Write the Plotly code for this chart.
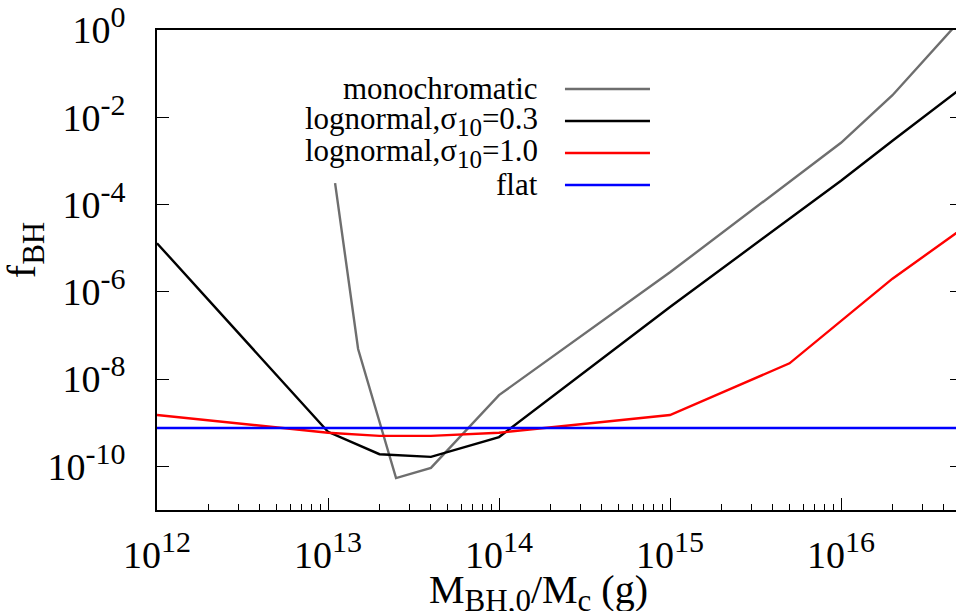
import plotly.graph_objects as go

# ---- data ----
x_mono = [1.1e13, 1.5e13, 2.5e13, 4e13, 1e14, 1e15, 1e16, 2e16, 5e16]
f_mono = [3.1e-4, 4.9e-8, 5.4e-11, 9.2e-11, 4.3e-9, 2.8e-6, 2.6e-3, 3.2e-2, 1.7]

x_ln03 = [1e12, 1e13, 2e13, 4e13, 1e14, 1e15, 1e16, 2e16, 5e16]
f_ln03 = [1.3e-5, 6.2e-10, 1.9e-10, 1.65e-10, 4.7e-10, 4.5e-7, 3.5e-4, 2.9e-3, 4.5e-2]

x_ln10 = [1e12, 1e13, 2e13, 4e13, 1e14, 1e15, 5e15, 2e16, 5e16]
f_ln10 = [1.5e-9, 5.9e-10, 5.0e-10, 5.0e-10, 5.9e-10, 1.5e-9, 2.3e-8, 2.0e-6, 2.6e-5]

x_flat = [1e12, 5e16]
f_flat = [7.6e-10, 7.6e-10]

SUP = "<sup><span style='font-size:30px'>%s</span></sup>"
x_tickvals = [1e12, 1e13, 1e14, 1e15, 1e16]
x_exps = ["12", "13", "14", "15", "16"]
x_ticktext = ["10" + SUP % e for e in x_exps]
y_tickvals = [1e0, 1e-2, 1e-4, 1e-6, 1e-8, 1e-10]
y_exps = ["0", "-2", "-4", "-6", "-8", "-10"]
y_ticktext = ["10" + SUP % e for e in y_exps]

SUB = "<sub><span style='font-size:25px'>10</span></sub>"
labels = ["monochromatic", "lognormal,σ" + SUB + "=0.3", "lognormal,σ" + SUB + "=1.0", "flat"]
colors = ["#6e6e6e", "#000000", "#ff0000", "#0000ff"]

FONT = "Liberation Serif, Times New Roman, serif"

fig = go.Figure()
series = [(x_mono, f_mono), (x_ln03, f_ln03), (x_ln10, f_ln10), (x_flat, f_flat)]
for (xs, ys), c, lab in zip(series, colors, labels):
    fig.add_trace(go.Scatter(x=xs, y=ys, mode="lines", line=dict(color=c, width=2.4),
                             name=lab, showlegend=False))

fig.update_layout(
    width=956, height=611,
    margin=dict(l=157, r=0, t=30, b=101),
    paper_bgcolor="white", plot_bgcolor="white",
    font=dict(family=FONT, color="black", size=38),
    xaxis=dict(type="log", range=[12, 16.6725], showgrid=False, zeroline=False,
               automargin=False,
               showline=True, linecolor="black", linewidth=2, mirror=True,
               ticks="inside", ticklen=12, tickwidth=1, tickcolor="black",
               tickvals=x_tickvals, ticktext=x_ticktext,
               tickfont=dict(family=FONT, size=38),
               ticklabelstandoff=10,
               minor=dict(ticks="inside", ticklen=6, tickwidth=1, tickcolor="black",
                          dtick="D1", showgrid=False)),
    yaxis=dict(type="log", range=[-11, 0], showgrid=False, zeroline=False,
               automargin=False,
               showline=True, linecolor="black", linewidth=2, mirror=False,
               ticks="inside", ticklen=12, tickwidth=1, tickcolor="black",
               tickvals=y_tickvals, ticktext=y_ticktext,
               tickfont=dict(family=FONT, size=38),
               ticklabelstandoff=22),
    yaxis2=dict(type="log", range=[-11, 0], overlaying="y", side="right",
                automargin=False,
                showgrid=False, zeroline=False, showline=False,
                ticks="inside", ticklen=6, tickwidth=1, tickcolor="black",
                tickvals=y_tickvals, showticklabels=False),
)

# invisible trace to anchor the right-hand tick axis
fig.add_trace(go.Scatter(x=x_flat, y=f_flat, yaxis="y2", mode="lines",
                         line=dict(color="rgba(0,0,0,0)", width=0), showlegend=False,
                         hoverinfo="skip"))

# legend (text right-aligned, sample line on the right)
row_y = [0.8771, 0.8104, 0.7438, 0.6771]
for lab, c, yy in zip(labels, colors, row_y):
    fig.add_annotation(text=lab, xref="paper", yref="paper", x=0.4793, y=yy,
                       xanchor="right", yanchor="middle", showarrow=False,
                       font=dict(family=FONT, size=31, color="black"))
    fig.add_shape(type="line", xref="paper", yref="paper", x0=0.5106, x1=0.6170,
                  y0=yy, y1=yy, line=dict(color=c, width=2.4))

# axis titles
fig.add_annotation(text="M<sub><span style='font-size:31px'>BH,0</span></sub>/M<sub><span style='font-size:31px'>c</span></sub> (g)",
                   xref="paper", yref="paper",
                   x=0.478, y=-0.1146, xanchor="center", yanchor="top", showarrow=False,
                   font=dict(family=FONT, size=40, color="black"))
fig.add_annotation(text="f<sub><span style='font-size:31px'>BH</span></sub>", xref="paper", yref="paper",
                   x=-0.165, y=0.5417, xanchor="center", yanchor="middle", textangle=-90,
                   showarrow=False, font=dict(family=FONT, size=40, color="black"))

fig.write_html("out.html", config={"displayModeBar": False},
               post_script="document.body.style.margin='0';document.body.style.overflow='hidden';")
